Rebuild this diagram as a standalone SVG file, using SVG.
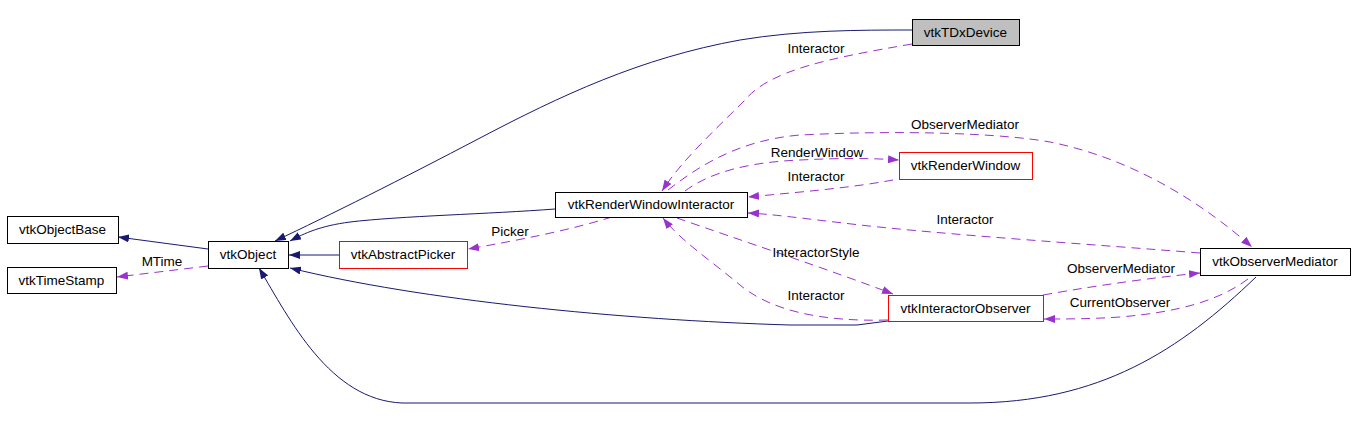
<svg xmlns="http://www.w3.org/2000/svg" width="1355" height="421" viewBox="0 0 1355 421">
<style>
text{font-family:"Liberation Sans",Arial,sans-serif;font-size:13.5px;fill:#000;text-anchor:middle}
.n rect{fill:#fff;stroke:#000;stroke-width:1}
.n.red rect{stroke:#ff0000}
.n.gray rect{fill:#bfbfbf}
.inh{fill:none;stroke:#191970;stroke-width:1;marker-end:url(#ab)}
.use{fill:none;stroke:#9a32cd;stroke-width:1;stroke-dasharray:9,6;marker-end:url(#ap)}
</style>
<defs>
<marker id="ab" viewBox="0 0 11 8" refX="11" refY="4" markerWidth="11" markerHeight="8" markerUnits="userSpaceOnUse" orient="auto"><path d="M0,0 L11,4 L0,8 z" fill="#191970"/></marker>
<marker id="ap" viewBox="0 0 11 8" refX="11" refY="4" markerWidth="11" markerHeight="8" markerUnits="userSpaceOnUse" orient="auto"><path d="M0,0 L11,4 L0,8 z" fill="#9a32cd"/></marker>
</defs>
<rect width="1355" height="421" fill="#fff"/>
<g id="connectors">
<path class="inh" d="M208,249 L118,237"/>
<path class="inh" d="M339,255 L289,255"/>
<path class="inh" d="M555,209 C490,214 400,216 350,222 C320,226 305,233 290,241"/>
<path class="inh" d="M912,30 C860,30 800,30 740,40 C640,58 560,96 480,138 C400,180 330,215 275,241"/>
<path class="inh" d="M888,321 L857,325 L790,325 C620,320 420,300 290,268"/>
<path class="inh" d="M1256,277 C1180,350 1100,403 970,403 L402,403 C330,400 290,320 259,268"/>
<path class="use" d="M208,266 L117,277"/>
<path class="use" d="M612,217 C570,230 520,240 468,249"/>
<path class="use" d="M912,44 C830,58 770,70 745,100 C715,130 682,160 662,191"/>
<path class="use" d="M668,190 C700,165 740,140 800,135 C900,130 1000,133 1050,142 C1140,160 1210,210 1252,247"/>
<path class="use" d="M685,191 C710,172 750,162 800,160 C840,158 870,158 899,160"/>
<path class="use" d="M893,180 C850,188 800,192 748,197"/>
<path class="use" d="M1200,253 C1100,245 950,235 860,225 C800,218 770,214 748,213"/>
<path class="use" d="M677,218 C740,240 830,270 893,294"/>
<path class="use" d="M888,320 C820,322 770,310 740,285 C710,260 680,240 663,218"/>
<path class="use" d="M1043,295 C1100,285 1150,278 1200,273"/>
<path class="use" d="M1248,279 C1220,300 1180,312 1120,317 C1090,319 1065,319 1044,319"/>
<text x="162" y="266">MTime</text>
<text x="510" y="236">Picker</text>
<text x="816" y="53">Interactor</text>
<text x="965" y="129">ObserverMediator</text>
<text x="817" y="157">RenderWindow</text>
<text x="816" y="181">Interactor</text>
<text x="965" y="224">Interactor</text>
<text x="816" y="257">InteractorStyle</text>
<text x="816" y="300">Interactor</text>
<text x="1121" y="273">ObserverMediator</text>
<text x="1120" y="307">CurrentObserver</text>
</g>
<g id="vtkObjectBase" class="n"><rect x="7.5" y="216.5" width="111" height="27"/><text x="62.5" y="234">vtkObjectBase</text></g>
<g id="vtkTimeStamp" class="n"><rect x="7.5" y="267.5" width="109" height="26"/><text x="61.5" y="285">vtkTimeStamp</text></g>
<g id="vtkObject" class="n"><rect x="208.5" y="241.5" width="80" height="27"/><text x="248" y="259">vtkObject</text></g>
<g id="vtkAbstractPicker" class="n red"><rect x="339.5" y="241.5" width="128" height="27"/><text x="403" y="259">vtkAbstractPicker</text></g>
<g id="vtkRenderWindowInteractor" class="n"><rect x="555.5" y="192.5" width="192" height="25"/><text x="651" y="209">vtkRenderWindowInteractor</text></g>
<g id="vtkTDxDevice" class="n gray"><rect x="912.5" y="19.5" width="107" height="26"/><text x="965.5" y="37">vtkTDxDevice</text></g>
<g id="vtkRenderWindow" class="n red"><rect x="899.5" y="152.5" width="133" height="27"/><text x="965.5" y="170">vtkRenderWindow</text></g>
<g id="vtkObserverMediator" class="n"><rect x="1200.5" y="248.5" width="150" height="27"/><text x="1275" y="266">vtkObserverMediator</text></g>
<g id="vtkInteractorObserver" class="n red"><rect x="888.5" y="295.5" width="155" height="26"/><text x="965.5" y="312.5">vtkInteractorObserver</text></g>
</svg>
